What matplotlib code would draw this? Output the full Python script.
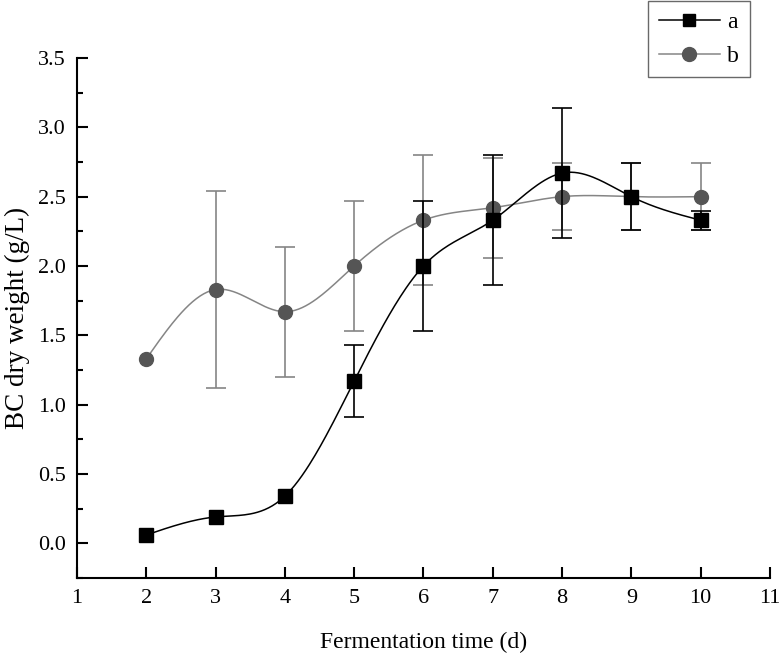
import matplotlib
matplotlib.use("Agg")
import matplotlib.pyplot as plt
from matplotlib.ticker import MultipleLocator
import numpy as np

# ---- data ----
days = [2, 3, 4, 5, 6, 7, 8, 9, 10]
a_mean = [0.06, 0.19, 0.34, 1.17, 2.00, 2.33, 2.67, 2.50, 2.33]
a_err = [0.0, 0.0, 0.0, 0.26, 0.47, 0.47, 0.47, 0.24, 0.07]
b_mean = [1.33, 1.83, 1.67, 2.00, 2.33, 2.42, 2.50, 2.50, 2.50]
b_err = [0.0, 0.71, 0.47, 0.47, 0.47, 0.36, 0.24, 0.24, 0.24]
x_ticks = list(range(1, 12))
y_ticks = [0.0, 0.5, 1.0, 1.5, 2.0, 2.5, 3.0, 3.5]


def smooth(x, y, n=300):
    # natural cubic spline, only used to draw the connecting curve
    x = np.asarray(x, float)
    y = np.asarray(y, float)
    h = np.diff(x)
    m = len(x)
    A = np.zeros((m, m))
    r = np.zeros(m)
    A[0, 0] = A[-1, -1] = 1
    for i in range(1, m - 1):
        A[i, i - 1] = h[i - 1]
        A[i, i] = 2 * (h[i - 1] + h[i])
        A[i, i + 1] = h[i]
        r[i] = 6 * ((y[i + 1] - y[i]) / h[i] - (y[i] - y[i - 1]) / h[i - 1])
    M = np.linalg.solve(A, r)
    xs = np.linspace(x[0], x[-1], n)
    idx = np.clip(np.searchsorted(x, xs) - 1, 0, m - 2)
    x0, x1 = x[idx], x[idx + 1]
    hh = x1 - x0
    t0, t1 = x1 - xs, xs - x0
    ys = (M[idx] * t0 ** 3 / (6 * hh) + M[idx + 1] * t1 ** 3 / (6 * hh)
          + (y[idx] / hh - M[idx] * hh / 6) * t0
          + (y[idx + 1] / hh - M[idx + 1] * hh / 6) * t1)
    return xs, ys


def with_err(x, y, e):
    # keep only points that actually have an error bar
    keep = [i for i in range(len(x)) if e[i] > 0]
    return ([x[i] for i in keep], [y[i] for i in keep], [e[i] for i in keep])


plt.rcParams["font.family"] = ["Liberation Serif", "DejaVu Serif"]

fig = plt.figure(figsize=(7.83, 6.58), dpi=100)
ax = fig.add_axes([0.0983, 0.1216, 0.885, 0.7903])

line_b = "#858585"
mark_b = "#555555"

# series b
bx, by, be = with_err(days, b_mean, b_err)
ax.errorbar(bx, by, yerr=be, fmt="none", ecolor=line_b,
            elinewidth=1.2, capsize=7, capthick=1.2, zorder=2)
xs, ys = smooth(days, b_mean)
ax.plot(xs, ys, color=line_b, lw=1.1, zorder=3)
ax.plot(days, b_mean, "o", color=mark_b, ms=10, zorder=4)

# series a
axx, ay, ae = with_err(days, a_mean, a_err)
ax.errorbar(axx, ay, yerr=ae, fmt="none", ecolor="black",
            elinewidth=1.2, capsize=7, capthick=1.2, zorder=5)
xs, ys = smooth(days, a_mean)
ax.plot(xs, ys, color="black", lw=1.1, zorder=6)
ax.plot(days, a_mean, "s", color="black", ms=9.5, zorder=7)

ax.set_xlim(1, 11)
ax.set_ylim(-0.25, 3.5)
ax.set_xticks(x_ticks)
ax.set_yticks(y_ticks)
ax.set_yticklabels([f"{v:.1f}" for v in y_ticks])
ax.yaxis.set_minor_locator(MultipleLocator(0.25))

for s in ["top", "right"]:
    ax.spines[s].set_visible(False)
for s in ["left", "bottom"]:
    ax.spines[s].set_linewidth(1.5)
ax.tick_params(which="major", direction="in", length=8, width=1.5,
               labelsize=16, pad=8)
ax.tick_params(which="minor", direction="in", length=4, width=1.5)

ax.set_xlabel("Fermentation time (d)", fontsize=17, labelpad=17)
ax.set_ylabel("BC dry weight (g/L)", fontsize=19.5, labelpad=6)

# legend
h_a, = ax.plot([], [], "s-", color="black", ms=9, lw=1.1)
h_b, = ax.plot([], [], "-", color=line_b, marker="o", mfc=mark_b,
               mec=mark_b, ms=10, lw=1.1)
leg = fig.legend([h_a, h_b], ["a", "b"], loc="upper left",
                 bbox_to_anchor=(0.8276, 0.998), borderaxespad=0,
                 fontsize=17, frameon=True, fancybox=False,
                 handlelength=2.6, borderpad=0.45, labelspacing=0.5,
                 handletextpad=0.3)
leg.get_frame().set_edgecolor("#444444")
leg.get_frame().set_linewidth(1.0)

fig.savefig("out.png", dpi=100)
